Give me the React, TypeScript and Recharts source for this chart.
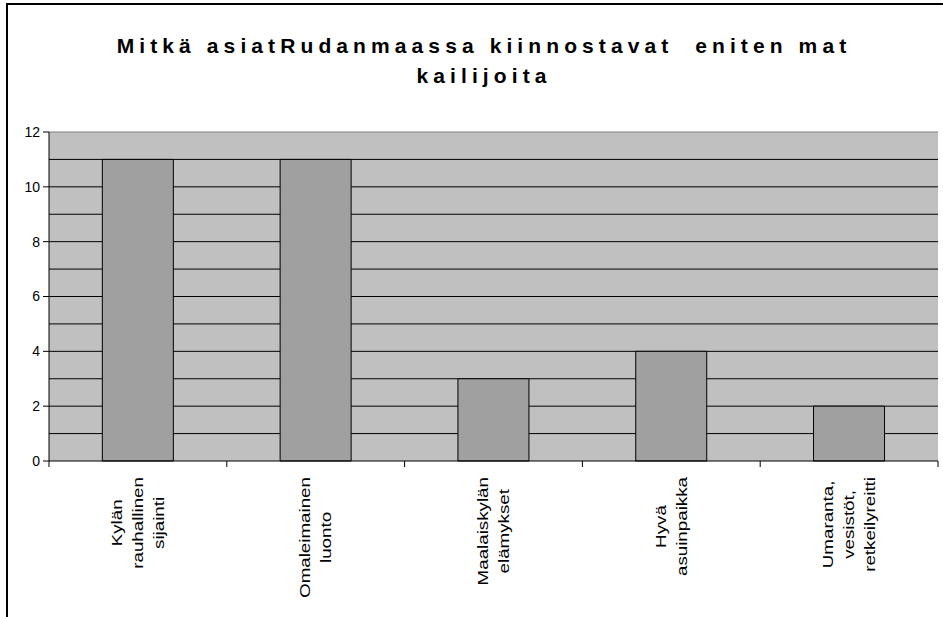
import React from 'react'
import { Bar, BarChart, CartesianGrid, ReferenceLine, XAxis, YAxis } from 'recharts'

// data
const categories = [
  'Kylän\nrauhallinen\nsijainti',
  'Omaleimainen\nluonto',
  'Maalaiskylän\nelämykset',
  'Hyvä\nasuinpaikka',
  'Umaranta,\nvesistöt,\nretkeilyreitti',
]
const values = [11, 11, 3, 4, 2]
const yTicks = [0, 2, 4, 6, 8, 10, 12]
const gridValues = [1, 2, 3, 4, 5, 6, 7, 8, 9, 10, 11]
const titleLines = [
  'Mitkä asiatRudanmaassa kiinnostavat  eniten mat',
  'kailijoita',
]

const FONT = '"Liberation Sans", Arial, sans-serif'
const STRETCH = 1.34 // labels in the original are drawn wider than normal
const LINE_H = 20.7

const chartData = categories.map((name, i) => ({ name, value: values[i] }))

let ctx: CanvasRenderingContext2D | null = null
const measure = (s: string) => {
  if (!ctx) ctx = document.createElement('canvas').getContext('2d')
  if (!ctx) return s.length * 7
  ctx.font = '14px "Liberation Sans"'
  return ctx.measureText(s).width
}

// rotated, multi-line category label + tick marks on the category boundaries
const CategoryTick = (props: any) => {
  const { x, y, payload, index } = props
  const lines: string[] = String(payload.value).split('\n')
  const half = payload.offset || 88.9
  const maxLen = Math.max(...lines.map(measure)) * STRETCH
  const cy = y + 10 + maxLen / 2
  const n = lines.length
  return (
    <g>
      <line x1={x - half} x2={x - half} y1={y - 6} y2={y} stroke="#000" />
      {index === categories.length - 1 && (
        <line x1={x + half} x2={x + half} y1={y - 6} y2={y} stroke="#000" />
      )}
      <text
        transform={`translate(${x},${cy}) rotate(-90) scale(${STRETCH},1)`}
        textAnchor="middle"
        fontSize={14}
        fontFamily={FONT}
        fill="#000"
      >
        {lines.map((l, i) => (
          <tspan key={i} x={0} y={(i - (n - 1) / 2) * LINE_H + 5}>
            {l}
          </tspan>
        ))}
      </text>
    </g>
  )
}

export default function App() {
  return (
    <div
      style={{
        position: 'absolute',
        left: 0,
        top: 0,
        width: 943,
        height: 617,
        overflow: 'hidden',
        background: '#fff',
      }}
    >
      {/* outer chart frame, runs off the right and bottom edge */}
      <div
        style={{
          position: 'absolute',
          left: 6,
          top: 3,
          width: 1000,
          height: 700,
          border: '2px solid #000',
        }}
      />
      <div style={{ position: 'absolute', left: 0, top: 0 }}>
        <BarChart
          width={943}
          height={617}
          data={chartData}
          margin={{ top: 132, right: 5, left: 0, bottom: 0 }}
          barCategoryGap="30%"
        >
          <CartesianGrid
            fill="#c0c0c0"
            fillOpacity={1}
            stroke="#000"
            vertical={false}
            horizontalValues={gridValues}
          />
          <XAxis
            dataKey="name"
            interval={0}
            height={156}
            tickSize={6}
            tickMargin={0}
            tickLine={false}
            axisLine={{ stroke: '#000' }}
            tick={<CategoryTick />}
          />
          <YAxis
            width={49}
            domain={[0, 12]}
            ticks={yTicks}
            interval={0}
            tickSize={6}
            tickMargin={3}
            axisLine={{ stroke: '#000' }}
            tickLine={{ stroke: '#000' }}
            tick={{ fill: '#000', fontSize: 14, fontFamily: FONT }}
          />
          <YAxis
            yAxisId="right"
            orientation="right"
            width={0}
            domain={[0, 12]}
            tick={false}
            tickLine={false}
            axisLine={{ stroke: '#808080' }}
          />
          <ReferenceLine y={12} stroke="#808080" />
          <Bar
            dataKey="value"
            fill="#a0a0a0"
            stroke="#000"
            strokeWidth={1}
            isAnimationActive={false}
          />
        </BarChart>
      </div>
      <svg
        width={943}
        height={120}
        style={{ position: 'absolute', left: 0, top: 0, pointerEvents: 'none' }}
      >
        {titleLines.map((t, i) => (
          <text
            key={i}
            x={484}
            y={53 + i * 30}
            textAnchor="middle"
            fontFamily={FONT}
            fontWeight="bold"
            fontSize={21}
            letterSpacing={5.1}
            fill="#000"
            style={{ whiteSpace: 'pre' }}
          >
            {t}
          </text>
        ))}
      </svg>
    </div>
  )
}
